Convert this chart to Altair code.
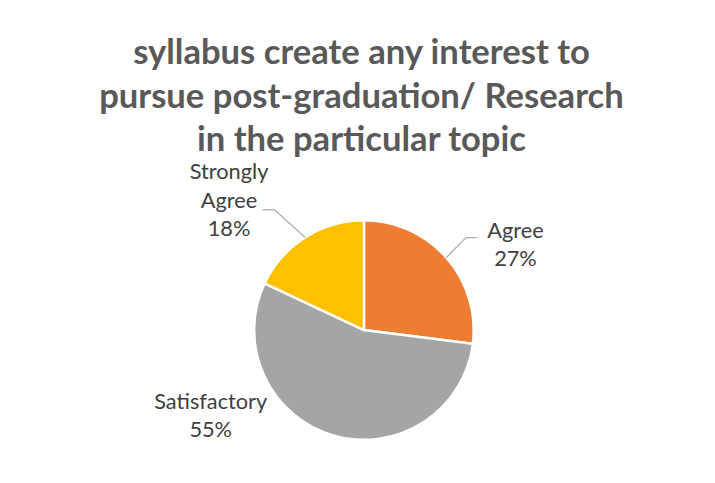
import altair as alt
import pandas as pd

# ---- data ----
categories = ["Agree", "Satisfactory", "Strongly Agree"]
values = [27, 55, 18]
colors = ["#ED7D31", "#A5A5A5", "#FFC000"]
title_lines = [
    "syllabus create any interest to",
    "pursue post-graduation/ Research",
    "in the particular topic",
]

df = pd.DataFrame({
    "category": categories,
    "value": values,
    "order": list(range(len(categories))),
})

# ---- layout / style ----
W, H = 707, 300
PAD_TOP = 175
CX, CY = 360, 148
R = 111
LABEL_FONT = "Lato"
TEXT_COLOR = "#404040"
LINE_COLOR = "#A6A6A6"

# label block offsets from the slice edge point (dx, dy)
LABEL_STYLE = {
    "Agree": (70, -27),
    "Satisfactory": (-124, -34),
    "Strongly Agree": (-77, -66),
}
# leader elbow offset from slice edge point, and horizontal tail length
LEADER_STYLE = {
    "Agree": (20, -20, 11),
    "Strongly Agree": (-31, -28, -12),
}

base = alt.Chart(df)

pie = base.mark_arc(radius=R, stroke="white", strokeWidth=2.5).encode(
    theta=alt.Theta("value:Q", stack=True),
    order=alt.Order("order:Q"),
    color=alt.Color("category:N",
                    scale=alt.Scale(domain=categories, range=colors),
                    legend=None),
    x=alt.value(CX),
    y=alt.value(CY),
)

stats = base.transform_joinaggregate(
    total="sum(value)"
).transform_window(
    cum="sum(value)", sort=[alt.SortField("order")], frame=[None, 0]
).transform_calculate(
    mid="(datum.cum - datum.value / 2) / datum.total * 2 * PI",
    pct="format(datum.value / datum.total, '.0%')",
).transform_calculate(
    label="replace(datum.category, ' ', '\\n') + '\\n' + datum.pct",
    ex=f"{CX} + {R} * sin(datum.mid)",
    ey=f"{CY} - {R} * cos(datum.mid)",
)

layers = [pie]

for cat, (dx, dy) in LABEL_STYLE.items():
    layers.append(
        stats.transform_filter(alt.datum.category == cat).mark_text(
            radius=R, dx=dx, dy=dy, lineBreak="\n", lineHeight=29,
            font=LABEL_FONT, fontSize=22, color=TEXT_COLOR,
            align="center", baseline="middle",
        ).encode(
            x=alt.value(CX),
            y=alt.value(CY),
            theta=alt.Theta("mid:Q", scale=None, stack=False),
            text="label:N",
        )
    )

for cat, (ox, oy, tail) in LEADER_STYLE.items():
    lead = stats.transform_filter(alt.datum.category == cat).transform_calculate(
        kx=f"datum.ex + {ox}",
        ky=f"datum.ey + {oy}",
    ).transform_calculate(
        tx=f"datum.kx + {tail}",
    )
    layers.append(
        lead.mark_rule(color=LINE_COLOR, strokeWidth=1.2).encode(
            x=alt.X("ex:Q", scale=None), y=alt.Y("ey:Q", scale=None),
            x2="kx:Q", y2="ky:Q",
        )
    )
    layers.append(
        lead.mark_rule(color=LINE_COLOR, strokeWidth=1.2).encode(
            x=alt.X("kx:Q", scale=None), y=alt.Y("ky:Q", scale=None),
            x2="tx:Q", y2="ky:Q",
        )
    )

chart = alt.layer(*layers).properties(
    width=W,
    height=H,
    autosize=alt.AutoSizeParams(type="none"),
    padding={"top": PAD_TOP, "left": 0, "right": 0, "bottom": 0},
    background="white",
    title=alt.TitleParams(
        text=title_lines,
        font=LABEL_FONT,
        fontSize=35,
        fontWeight="bold",
        color="#595959",
        lineHeight=44,
        anchor="middle",
        offset=3,
        dx=4,
    ),
).configure_view(stroke=None)

chart.save("out.html", embed_options={"renderer": "svg", "actions": False})
